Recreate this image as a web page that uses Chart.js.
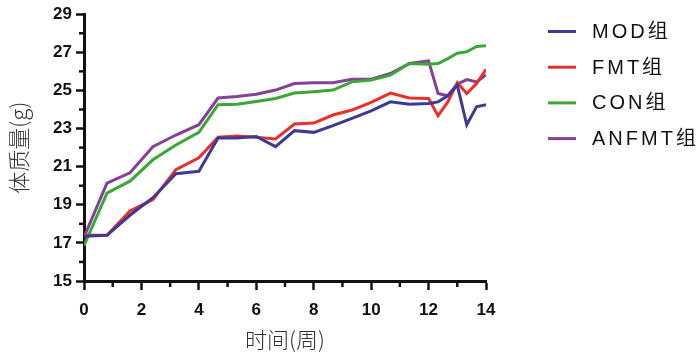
<!DOCTYPE html>
<html><head><meta charset="utf-8">
<script src="https://cdn.jsdelivr.net/npm/chart.js@4"></script>
<style>html,body{margin:0;padding:0;background:#fff;}#wrap{width:700px;height:355px;position:relative;}</style>
</head><body><div id="wrap"><canvas id="c" width="700" height="355"></canvas></div>
<script>
const weeks = [0,0.8,1.6,2.4,3.2,4.0,4.67,5.33,6.0,6.67,7.33,8.0,8.67,9.33,10.0,10.67,11.33,12.0,12.33,12.67,13.0,13.33,13.67,14.0];
const seriesLabels = ['MOD组','FMT组','CON组','ANFMT组'];
const modValues   = [17.35,17.40,18.45,19.37,20.63,20.76,22.51,22.51,22.58,22.05,22.89,22.80,23.15,23.53,23.93,24.40,24.28,24.32,24.40,24.72,25.28,23.20,24.14,24.25];
const fmtValues   = [17.40,17.40,18.67,19.27,20.84,21.46,22.54,22.61,22.54,22.45,23.24,23.29,23.71,23.97,24.37,24.86,24.60,24.58,23.67,24.40,25.41,24.84,25.36,26.11];
const conValues   = [16.85,19.61,20.24,21.36,22.14,22.80,24.25,24.28,24.42,24.58,24.86,24.93,25.02,25.45,25.55,25.80,26.41,26.37,26.41,26.67,26.95,27.03,27.31,27.35];
const anfmtValues = [17.30,20.14,20.68,22.05,22.66,23.20,24.60,24.68,24.80,25.02,25.36,25.40,25.40,25.59,25.59,25.89,26.41,26.55,24.84,24.72,25.33,25.57,25.45,25.81];
const colors = ['#3d3a94','#e8302a','#3aa835','#84409a'];
const xTitle = '时间(周)';
const yTitle = '体质量(g)';

const allValues = [modValues, fmtValues, conValues, anfmtValues];
const datasets = allValues.map((vals, i) => ({
  label: seriesLabels[i],
  data: weeks.map((w, j) => ({x: w, y: vals[j]})),
  borderColor: colors[i],
  backgroundColor: colors[i],
  borderWidth: 3,
  pointRadius: 0,
  tension: 0,
  fill: false
}));

const legendPlugin = {
  id: 'customLegend',
  afterDraw(chart) {
    const ctx = chart.ctx;
    ctx.save();
    chart.data.datasets.forEach((ds, i) => {
      const y = 31.5 + i * 35.7;
      ctx.strokeStyle = ds.borderColor;
      ctx.lineWidth = 3;
      ctx.beginPath();
      ctx.moveTo(548, y);
      ctx.lineTo(576, y);
      ctx.stroke();
      ctx.fillStyle = '#111';
      ctx.font = '20px "Liberation Sans", "Noto Sans CJK SC", sans-serif';
      ctx.letterSpacing = '3px';
      ctx.textBaseline = 'middle';
      ctx.textAlign = 'left';
      ctx.fillText(ds.label, 592, y + 1);
    });
    ctx.restore();
  }
};

const minorTicks = {
  id: 'minorTicks',
  afterDraw(chart) {
    const ctx = chart.ctx;
    const xs = chart.scales.x, ys = chart.scales.y;
    const ca = chart.chartArea;
    ctx.save();
    ctx.strokeStyle = '#111';
    ctx.lineWidth = 2.5;
    for (let v = 1; v <= 13; v += 2) {
      const px = xs.getPixelForValue(v);
      ctx.beginPath(); ctx.moveTo(px, ca.bottom); ctx.lineTo(px, ca.bottom + 6); ctx.stroke();
    }
    for (let v = 16; v <= 28; v += 2) {
      const py = ys.getPixelForValue(v);
      ctx.beginPath(); ctx.moveTo(ca.left, py); ctx.lineTo(ca.left - 5, py); ctx.stroke();
    }
    ctx.restore();
  }
};

new Chart(document.getElementById('c'), {
  type: 'line',
  data: { datasets },
  plugins: [legendPlugin, minorTicks],
  options: {
    responsive: false,
    animation: false,
    devicePixelRatio: 1,
    layout: { padding: { top: 13, right: 214, left: 0, bottom: 0 } },
    plugins: { legend: { display: false }, tooltip: { enabled: false } },
    scales: {
      x: {
        type: 'linear', min: 0, max: 14,
        afterFit: s => { s.height = 74; },
        ticks: {
          stepSize: 2, autoSkip: false, maxRotation: 0,
          color: '#111', padding: 10,
          font: { family: '"Liberation Sans", Arial, sans-serif', size: 17, weight: 'bold' }
        },
        grid: { drawOnChartArea: false, tickLength: 9, tickWidth: 2.5, tickColor: '#111' },
        border: { display: true, color: '#111', width: 3 },
        title: {
          display: true, text: xTitle, color: '#333',
          font: { family: '"Noto Sans CJK SC", sans-serif', size: 22, weight: 300 },
          padding: { top: 0, bottom: 2 }
        }
      },
      y: {
        type: 'linear', min: 15, max: 29,
        afterFit: s => { s.width = 84; },
        ticks: {
          stepSize: 2, color: '#111', padding: 4,
          font: { family: '"Liberation Sans", Arial, sans-serif', size: 17, weight: 'bold' }
        },
        grid: { drawOnChartArea: false, tickLength: 8, tickWidth: 2.5, tickColor: '#111' },
        border: { display: true, color: '#111', width: 3 },
        title: {
          display: true, text: yTitle, color: '#333',
          font: { family: '"Noto Sans CJK SC", sans-serif', size: 22, weight: 300 },
          padding: { top: 5, bottom: 0 }
        }
      }
    }
  }
});
</script></body></html>
